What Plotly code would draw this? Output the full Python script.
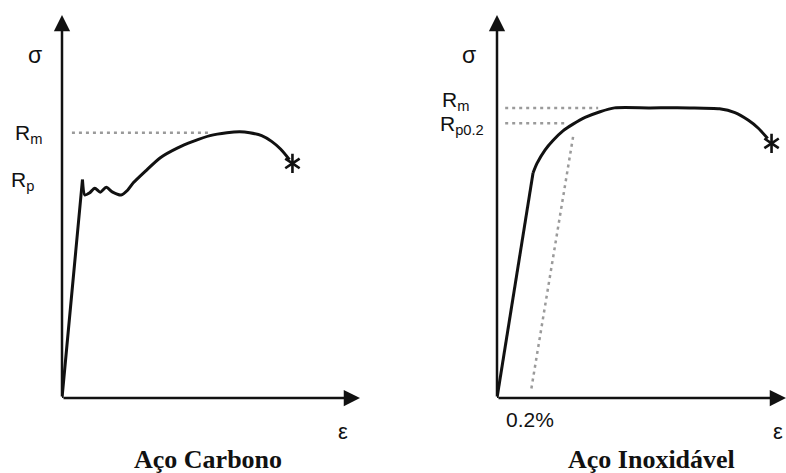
import plotly.graph_objects as go

# Schematic stress-strain diagrams (arbitrary units: strain %, stress MPa)
# --- Carbon steel ---
carbon_elastic_eps = [0.0, 2.06]
carbon_elastic_sig = [0.0, 228.0]
carbon_plastic_eps = [2.06, 2.3, 2.75, 3.3, 3.85, 4.45, 5.1, 5.95,
                      6.6, 7.2, 8.4, 9.9, 11.6, 13.2, 14.9, 16.6, 17.9, 18.9, 20.1,
                      21.1, 22.0, 22.9]
carbon_plastic_sig = [228.0, 212.0, 214.0, 219.0, 215.0, 220.0, 215.0, 212.0,
                      217.0, 225.0, 237.0, 251.0, 261.0, 268.0, 274.0, 277.0, 278.0, 277.0, 274.0,
                      268.0, 260.0, 249.0]
carbon_rupture = (23.2, 245.0)
carbon_rm = 277.0
carbon_rp = 228.0

# --- Stainless steel ---
stainless_elastic_eps = [0.0, 3.74]
stainless_elastic_sig = [0.0, 235.0]
stainless_plastic_eps = [3.74, 4.15, 4.98, 5.81, 6.85, 7.89, 9.14, 10.7, 12.2, 15.9, 20.0,
                         23.1, 24.7, 26.1, 27.1, 28.1]
stainless_plastic_sig = [235.0, 245.0, 259.0, 269.0, 279.0, 286.0, 293.0, 299.0, 303.0, 303.0, 303.0,
                         302.0, 298.0, 290.0, 282.0, 271.0]
stainless_rupture = (28.5, 266.0)
stainless_rm = 303.0
stainless_rp02 = 287.0
offset_eps = [3.57, 7.95]   # 0.2% offset line, parallel to the elastic slope
offset_sig = [10.0, 276.0]
offset_label_eps = 3.4

EPS_MAX = 30.0
SIG_MAX = 400.0

W, H = 786, 473
BLACK = "#111111"
GRAY = "#9a9a9a"
SANS = "Arial, 'Liberation Sans', sans-serif"
SERIF = "'Times New Roman', 'Liberation Serif', serif"

fig = go.Figure()


def curve(xs, ys, xa, ya, shape="linear"):
    fig.add_trace(go.Scatter(x=xs, y=ys, xaxis=xa, yaxis=ya, mode="lines",
                             line=dict(color=BLACK, width=3, shape=shape, smoothing=0.7),
                             hoverinfo="skip", showlegend=False, cliponaxis=False))


def dotted(xs, ys, xa, ya):
    fig.add_trace(go.Scatter(x=xs, y=ys, xaxis=xa, yaxis=ya, mode="lines",
                             line=dict(color=GRAY, width=2.5, dash="3px,4px"),
                             hoverinfo="skip", showlegend=False, cliponaxis=False))


def rupture(pt, xa, ya):
    for sym in ("y-up-open", "y-down-open"):
        fig.add_trace(go.Scatter(x=[pt[0]], y=[pt[1]], xaxis=xa, yaxis=ya, mode="markers",
                                 marker=dict(symbol=sym, size=12, color=BLACK,
                                             line=dict(color=BLACK, width=2.6)),
                                 hoverinfo="skip", showlegend=False, cliponaxis=False))


# Carbon steel panel
dotted([1.0, 15.0], [carbon_rm, carbon_rm], "x", "y")
curve(carbon_elastic_eps, carbon_elastic_sig, "x", "y")
curve(carbon_plastic_eps, carbon_plastic_sig, "x", "y", shape="spline")
rupture(carbon_rupture, "x", "y")

# Stainless steel panel
dotted([0.85, 10.5], [stainless_rm, stainless_rm], "x2", "y2")
dotted([0.85, 7.0], [stainless_rp02, stainless_rp02], "x2", "y2")
dotted(offset_eps, offset_sig, "x2", "y2")
curve(stainless_elastic_eps, stainless_elastic_sig, "x2", "y2")
curve(stainless_plastic_eps, stainless_plastic_sig, "x2", "y2", shape="spline")
rupture(stainless_rupture, "x2", "y2")

ax_common = dict(showgrid=False, zeroline=False, showticklabels=False, ticks="",
                 showline=False, fixedrange=True)
y_dom = [(H - 398) / H, (H - 15) / H]
fig.update_layout(
    width=W, height=H, margin=dict(l=0, r=0, t=0, b=0),
    paper_bgcolor="white", plot_bgcolor="white", showlegend=False,
    xaxis=dict(domain=[62 / W, 360 / W], range=[0, EPS_MAX], **ax_common),
    yaxis=dict(domain=y_dom, range=[0, SIG_MAX], anchor="x", **ax_common),
    xaxis2=dict(domain=[497 / W, 786 / W], range=[0, EPS_MAX], anchor="y2", **ax_common),
    yaxis2=dict(domain=y_dom, range=[0, SIG_MAX], anchor="x2", **ax_common),
)

ann = []


def arrow(xr, yr, x0, y0, x1, y1):
    ann.append(dict(xref=xr, yref=yr, axref=xr, ayref=yr, x=x1, y=y1, ax=x0, ay=y0,
                    text="", showarrow=True, arrowhead=2, arrowsize=1.3,
                    arrowwidth=2.5, arrowcolor=BLACK, standoff=0, startstandoff=0))


def label(xr, yr, x, y, text, xanchor="center", yanchor="middle", xshift=0, yshift=0, size=21):
    ann.append(dict(xref=xr, yref=yr, x=x, y=y, text=text, showarrow=False,
                    xanchor=xanchor, yanchor=yanchor, xshift=xshift, yshift=yshift,
                    font=dict(family=SANS, size=size, color=BLACK)))


# Axes with arrowheads
arrow("x", "y", 0, 0, 0, SIG_MAX)
arrow("x", "y", 0, 0, EPS_MAX, 0)
arrow("x2", "y2", 0, 0, 0, SIG_MAX)
arrow("x2", "y2", 0, 0, EPS_MAX, 0)

# Carbon steel labels
label("x", "y", 0, 358, "σ", xanchor="right", xshift=-18, size=23)
label("x", "y", 0, carbon_rm, "R<sub>m</sub>", xanchor="right", xshift=-18, yshift=-1)
label("x", "y", 0, carbon_rp, "R<sub>p</sub>", xanchor="right", xshift=-26, yshift=-1)
label("x", "y", 28.3, 0, "ε", yanchor="top", yshift=-19, size=22)

# Stainless steel labels
label("x2", "y2", 0, 358, "σ", xanchor="right", xshift=-19, size=23)
label("x2", "y2", 0, stainless_rm, "R<sub>m</sub>", xanchor="right", xshift=-26, yshift=7)
label("x2", "y2", 0, stainless_rp02, "R<sub>p0.2</sub>", xanchor="right", xshift=-11, yshift=-2)
label("x2", "y2", offset_label_eps, 0, "0.2%", yanchor="top", yshift=-8, size=21)
label("x2", "y2", 29.2, 0, "ε", yanchor="top", yshift=-19, size=22)

# Panel titles
for xc, title in ((208, "Aço Carbono"), (651, "Aço Inoxidável")):
    ann.append(dict(xref="paper", yref="paper", x=xc / W, y=(H - 459) / H, text=f"<b>{title}</b>",
                    showarrow=False, xanchor="center", yanchor="middle",
                    font=dict(family=SERIF, size=26, color=BLACK)))

fig.update_layout(annotations=ann)
fig.write_html("out.html")
